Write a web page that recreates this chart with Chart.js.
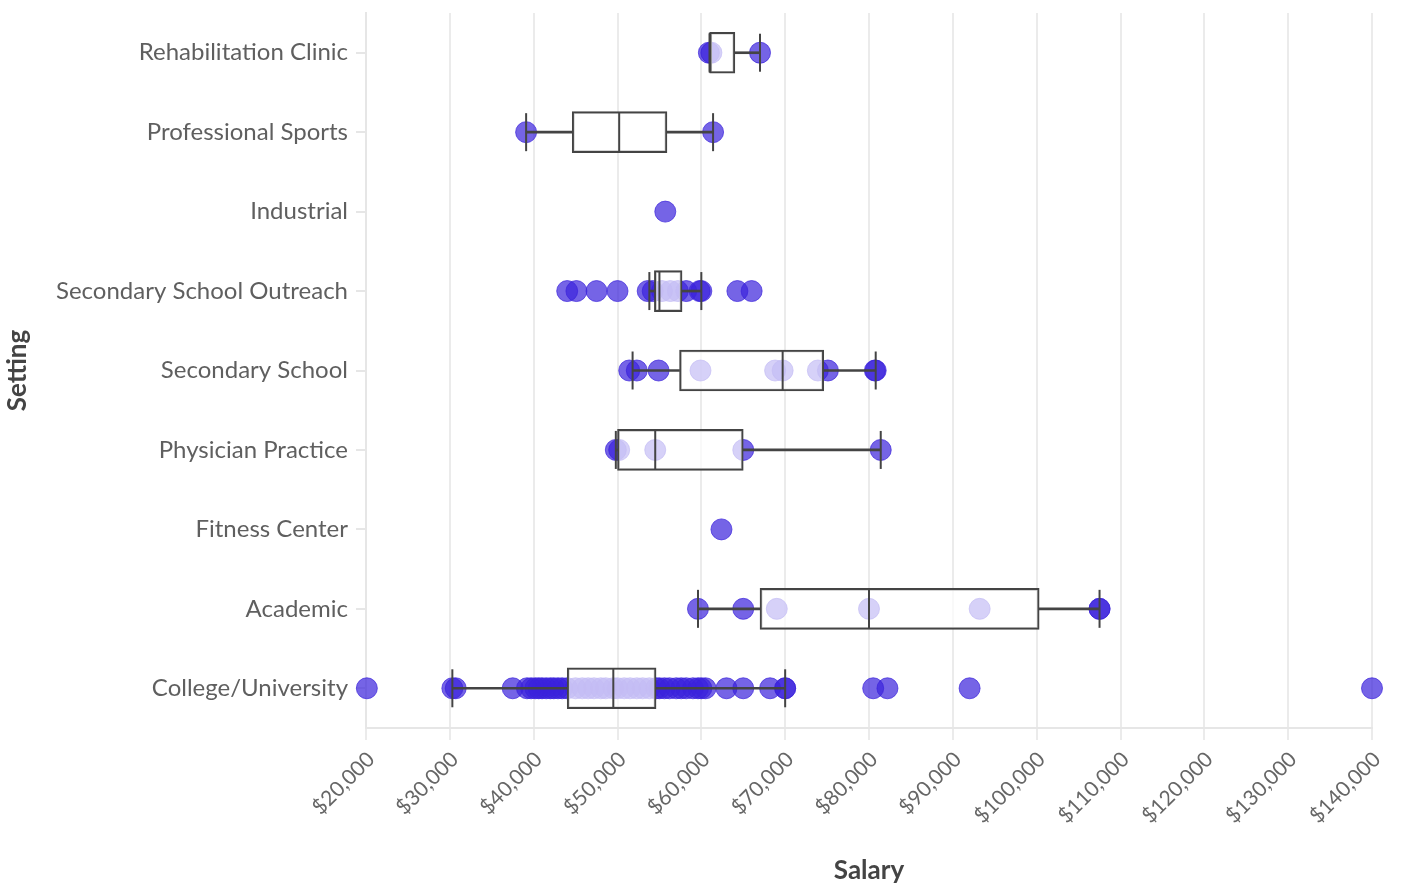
<!DOCTYPE html>
<html>
<head>
<meta charset="utf-8">
<script src="https://cdn.jsdelivr.net/npm/chart.js@4/dist/chart.umd.min.js"></script>
<style>
  html, body { margin: 0; padding: 0; background: #fff; }
  #wrap { width: 1403px; height: 886px; }
</style>
</head>
<body>
<div id="wrap"><canvas id="chart"></canvas></div>
<script>
const settings = [
  'Rehabilitation Clinic',
  'Professional Sports',
  'Industrial',
  'Secondary School Outreach',
  'Secondary School',
  'Physician Practice',
  'Fitness Center',
  'Academic',
  'College/University'
];

// salaries per setting
const rehabClinic = [60900, 61200, 67000];
const professionalSports = [39100, 61400];
const industrial = [55700];
const schoolOutreach = [44000, 45100, 47500, 50000, 53600, 54200, 55300, 56300, 57200, 58200, 59800, 60000, 64300, 66000];
const secondarySchool = [51400, 52300, 54900, 59900, 68800, 69700, 73900, 75100, 80700, 80800];
const physicianPractice = [49800, 50200, 54500, 65000, 81400];
const fitnessCenter = [62400];
const academic = [59600, 65000, 69000, 80000, 93200, 107500, 107500];
const collegeUniversity = [
  20100, 30300, 30700, 37500, 39200, 39700, 40200, 40600, 41000, 41500, 42000, 42400, 42900, 43400,
  44000, 45000, 45800, 46500, 47200, 48000, 48600, 49500, 50000, 50800, 51500, 52300, 53000, 53800,
  54600, 55000, 55600, 56200, 57000, 57600, 58200, 59000, 59600, 60000, 60500, 63000, 65000, 68200,
  70000, 70000, 80500, 82200, 92000, 140000
];

// box plot summary per setting (null = single point, no box)
const boxMin = [61000, 39100, null, 53800, 51800, 49800, null, 59600, 30300];
const boxQ1 = [61000, 44600, null, 54400, 57400, 50000, null, 67000, 44000];
const boxMedian = [61000, 50200, null, 55000, 69700, 54500, null, 80000, 49500];
const boxQ3 = [64000, 55900, null, 57700, 74600, 65000, null, 100300, 54600];
const boxMax = [67000, 61400, null, 60000, 80800, 81400, null, 107500, 70000];

const xTicks = [20000, 30000, 40000, 50000, 60000, 70000, 80000, 90000, 100000, 110000, 120000, 130000, 140000];

const FONT = 'Lato, "Noto Sans", sans-serif';
const DOT = 'rgba(58, 34, 220, 0.7)';
const LINE = '#444';

const pointLists = [rehabClinic, professionalSports, industrial, schoolOutreach, secondarySchool,
  physicianPractice, fitnessCenter, academic, collegeUniversity];

const dots = [];
pointLists.forEach((list, i) => {
  list.forEach((v) => dots.push({x: v, y: settings[i]}));
});

const range = (lo, hi) => settings.map((s, i) => (lo[i] === null || lo[i] === hi[i]) ? null : [lo[i], hi[i]]);
const marks = (values) => settings
  .map((s, i) => (values[i] === null ? null : {x: values[i], y: s}))
  .filter((p) => p !== null);

const capStyle = {
  pointStyle: 'line',
  rotation: 90,
  borderColor: LINE,
  backgroundColor: LINE,
  borderWidth: 2
};

new Chart(document.getElementById('chart'), {
  type: 'bar',
  data: {
    labels: settings,
    datasets: [
      {
        type: 'scatter',
        label: 'median',
        data: marks(boxMedian),
        pointRadius: 20,
        order: 0,
        ...capStyle
      },
      {
        label: 'box',
        data: range(boxQ1, boxQ3),
        backgroundColor: 'rgba(255, 255, 255, 0.7)',
        borderColor: LINE,
        borderWidth: 2,
        borderSkipped: false,
        barThickness: 41,
        grouped: false,
        order: 1
      },
      {
        label: 'lower whisker',
        data: range(boxMin, boxQ1),
        backgroundColor: LINE,
        borderWidth: 0,
        barThickness: 2,
        grouped: false,
        order: 2
      },
      {
        label: 'upper whisker',
        data: range(boxQ3, boxMax),
        backgroundColor: LINE,
        borderWidth: 0,
        barThickness: 2,
        grouped: false,
        order: 2
      },
      {
        type: 'scatter',
        label: 'caps',
        data: marks(boxMin).concat(marks(boxMax)),
        pointRadius: 19,
        order: 2,
        ...capStyle
      },
      {
        type: 'scatter',
        label: 'salary',
        data: dots,
        pointRadius: 10.5,
        backgroundColor: DOT,
        borderColor: DOT,
        borderWidth: 1,
        clip: false,
        order: 3
      }
    ]
  },
  options: {
    indexAxis: 'y',
    responsive: true,
    maintainAspectRatio: false,
    animation: false,
    layout: {autoPadding: false, padding: {top: 13, right: 31, left: 0, bottom: 0}},
    plugins: {
      legend: {display: false},
      tooltip: {enabled: false}
    },
    scales: {
      x: {
        type: 'linear',
        min: 20000,
        max: 140000,
        afterBuildTicks: (scale) => {
          scale.ticks = xTicks.map((v) => ({value: v}));
        },
        afterFit: (scale) => {
          scale.height = 158;
        },
        border: {display: true, color: '#e6e6e6', width: 2},
        grid: {color: '#ebebeb', lineWidth: 2, tickLength: 12},
        ticks: {
          minRotation: 45,
          maxRotation: 45,
          padding: 7,
          labelOffset: 5,
          color: '#666',
          font: {family: FONT, size: 21},
          callback: (v) => '$' + Number(v).toLocaleString('en-US')
        },
        title: {
          display: true,
          text: 'Salary',
          color: '#444',
          padding: {top: 0, bottom: 0},
          font: {family: FONT, size: 26, weight: 'bold'}
        }
      },
      y: {
        type: 'category',
        labels: settings,
        offset: true,
        afterFit: (scale) => {
          scale.width = 366;
          scale.paddingTop = 0;
          scale.paddingBottom = 0;
        },
        border: {display: true, color: '#e6e6e6', width: 2},
        grid: {offset: false, drawOnChartArea: false, color: '#e6e6e6', lineWidth: 2, tickLength: 10},
        ticks: {
          padding: 8,
          color: '#5f5f5f',
          font: {family: FONT, size: 24}
        },
        title: {
          display: true,
          text: 'Setting',
          color: '#444',
          padding: {top: 2, bottom: 0},
          font: {family: FONT, size: 26, weight: 'bold'}
        }
      }
    }
  }
});
</script>
</body>
</html>
